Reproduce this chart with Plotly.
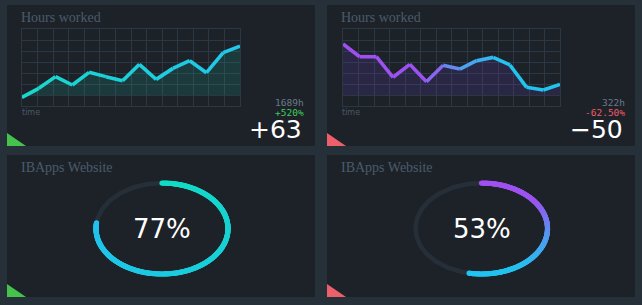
import numpy as np
import plotly.graph_objects as go

W, H = 642, 305

# ---------------- data ----------------
hours_a = [0.79, 1.61, 2.67, 1.91, 3.06, 2.67, 2.30, 3.79, 2.42, 3.42, 4.12, 3.03, 4.85, 5.45]
hours_b = [5.64, 4.48, 4.48, 2.61, 3.79, 2.21, 3.70, 3.36, 4.12, 4.42, 3.73, 1.70, 1.45, 1.97]
titles_top = ["Hours worked", "Hours worked"]
totals = ["1689h", "322h"]
changes_pct = ["+520%", "-62.50%"]
changes_abs = ["+63", "\u221250"]
gauge_titles = ["IBApps Website", "IBApps Website"]
gauge_values = [77, 53]

# ---------------- helpers ----------------
def px(x):
    return x / W

def py(y):
    return 1 - y / H

def hex2rgb(h):
    h = h.lstrip('#')
    return tuple(int(h[i:i + 2], 16) for i in (0, 2, 4))

def lerp(stops, t):
    t = min(max(t, 0), 1)
    for i in range(len(stops) - 1):
        t0, c0 = stops[i]
        t1, c1 = stops[i + 1]
        if t0 <= t <= t1:
            f = 0 if t1 == t0 else (t - t0) / (t1 - t0)
            a, b = hex2rgb(c0), hex2rgb(c1)
            return 'rgb(%d,%d,%d)' % tuple(round(a[k] + (b[k] - a[k]) * f) for k in range(3))
    return stops[-1][1]

def note(text, x, y, xanchor, size, color, family):
    return dict(text=text, x=px(x), y=py(y), xref='paper', yref='paper',
                xanchor=xanchor, yanchor='middle', showarrow=False,
                font=dict(family=family, size=size, color=color))

OUTER = '#263039'
PANEL = '#1d2229'
GRID = '#2b3742'

fig = go.Figure()
shapes = []
annotations = []

panels = [(7, 5, 315, 146), (327, 5, 635, 146), (7, 155, 315, 297), (327, 155, 635, 297)]
for (x0, y0, x1, y1) in panels:
    shapes.append(dict(type='rect', xref='paper', yref='paper', x0=px(x0), x1=px(x1),
                       y0=py(y1), y1=py(y0), fillcolor=PANEL, line=dict(width=0), layer='below'))

tri_colors = ['#45c24b', '#ec5f6b', '#45c24b', '#ec5f6b']
for (x0, y0, x1, y1), c in zip(panels, tri_colors):
    path = 'M %f %f L %f %f L %f %f Z' % (px(x0), py(y1 - 13), px(x0), py(y1), px(x0 + 19), py(y1))
    shapes.append(dict(type='path', xref='paper', yref='paper', path=path, fillcolor=c,
                       line=dict(width=0)))

# ---------------- line charts ----------------
line_specs = [
    dict(vals=hours_a, dom=(22, 240), ax='', stops=[(0, '#18d8cc'), (1, '#22c6ea')],
         fill='rgba(30,205,175,0.14)', panel_x=7, right=305),
    dict(vals=hours_b, dom=(343, 560), ax='2', stops=[(0, '#a04ff0'), (0.38, '#9a52f0'),
                                                     (0.55, '#4fa0f0'), (0.75, '#22c4ee'), (1, '#22c4ee')],
         fill='rgba(110,70,210,0.16)', panel_x=327, right=626),
]

for i, s in enumerate(line_specs):
    ax = s['ax']
    xa = 'x' + ax
    ya = 'y' + ax
    n = len(s['vals'])
    xs = list(range(n))
    fig.add_trace(go.Scatter(x=xs, y=[1] * n, mode='lines', line=dict(width=0),
                             xaxis=xa, yaxis=ya, hoverinfo='skip', showlegend=False))
    fig.add_trace(go.Scatter(x=xs, y=s['vals'], mode='lines', line=dict(width=0),
                             fill='tonexty', fillcolor=s['fill'],
                             xaxis=xa, yaxis=ya, hoverinfo='skip', showlegend=False))
    for k in range(n - 1):
        col = lerp(s['stops'], (k + 0.5) / (n - 1))
        fig.add_trace(go.Scatter(x=xs[k:k + 2], y=s['vals'][k:k + 2], mode='lines',
                                 line=dict(width=3.6, color=col),
                                 xaxis=xa, yaxis=ya, hoverinfo='skip', showlegend=False))
    d0, d1 = s['dom']
    fig.layout['xaxis' + ax] = dict(domain=[px(d0), px(d1)], range=[0, n - 1],
                                    tickmode='array', tickvals=[(n - 1) * j / 14 for j in range(15)],
                                    showticklabels=False, showgrid=True, gridcolor=GRID, gridwidth=1,
                                    zeroline=False, showline=True, mirror=True, linecolor=GRID,
                                    anchor=ya, fixedrange=True)
    fig.layout['yaxis' + ax] = dict(domain=[py(106), py(29)], range=[0, 7], dtick=1, tick0=0,
                                    showticklabels=False, showgrid=True, gridcolor=GRID, gridwidth=1,
                                    zeroline=False, showline=True, mirror=True, linecolor=GRID,
                                    anchor=xa, fixedrange=True)

    pxl = s['panel_x']
    annotations += [
        note(titles_top[i], pxl + 12, 17.5, 'left', 14, '#4a5b6a', 'Liberation Serif'),
        note('time', pxl + 13, 112.5, 'left', 8, '#4a5866', 'DejaVu Sans'),
        note(totals[i], s['right'] + 1, 102, 'right', 9.5, '#6a7a88', 'DejaVu Sans Mono'),
        note(changes_pct[i], s['right'] + 1, 112, 'right', 9.5,
             '#3ecc5c' if i == 0 else '#f05a66', 'DejaVu Sans Mono'),
        note(changes_abs[i], s['right'] - 1, 129, 'right', 25, '#ffffff', 'DejaVu Sans'),
    ]

# ---------------- gauges ----------------
gauge_specs = [
    dict(cx=162, ax='3', stops=[(0, '#12dbc4'), (1, '#22c2ee')], panel_x=7),
    dict(cx=481.5, ax='4', stops=[(0, '#a24ff0'), (0.3, '#9a55f0'), (0.55, '#4d9ef0'),
                                  (0.8, '#22c2ee'), (1, '#20c4f0')], panel_x=327),
]
cy, rx, ry, pad = 228.5, 66, 45.5, 1.06

for i, g in enumerate(gauge_specs):
    ax = g['ax']
    xa, ya = 'x' + ax, 'y' + ax
    th = np.linspace(0, 2 * np.pi, 361)
    fig.add_trace(go.Scatter(x=np.cos(th), y=np.sin(th), mode='lines',
                             line=dict(width=4.5, color='#262f38'),
                             xaxis=xa, yaxis=ya, hoverinfo='skip', showlegend=False))
    frac = gauge_values[i] / 100
    npts = int(500 * frac) + 2
    t = np.linspace(0, 1, npts)
    ang = np.pi / 2 - 2 * np.pi * frac * t
    cols = [lerp(g['stops'], v) for v in t]
    fig.add_trace(go.Scatter(x=np.cos(ang), y=np.sin(ang), mode='markers',
                             marker=dict(size=5.2, color=cols, line=dict(width=0)),
                             xaxis=xa, yaxis=ya, hoverinfo='skip', showlegend=False))
    cx = g['cx']
    fig.layout['xaxis' + ax] = dict(domain=[px(cx - rx * pad), px(cx + rx * pad)],
                                    range=[-pad, pad], visible=False, anchor=ya, fixedrange=True)
    fig.layout['yaxis' + ax] = dict(domain=[py(cy + ry * pad), py(cy - ry * pad)],
                                    range=[-pad, pad], visible=False, anchor=xa, fixedrange=True)
    annotations += [
        note(gauge_titles[i], g['panel_x'] + 12, 167, 'left', 14, '#4a5b6a', 'Liberation Serif'),
        note('%d%%' % gauge_values[i], cx, 228.5, 'center', 26, '#ffffff', 'DejaVu Sans'),
    ]

fig.update_layout(width=W, height=H, margin=dict(l=0, r=0, t=0, b=0),
                  paper_bgcolor=OUTER, plot_bgcolor='rgba(0,0,0,0)',
                  shapes=shapes, annotations=annotations, showlegend=False)

fig.write_html("out.html", config=dict(displayModeBar=False))
